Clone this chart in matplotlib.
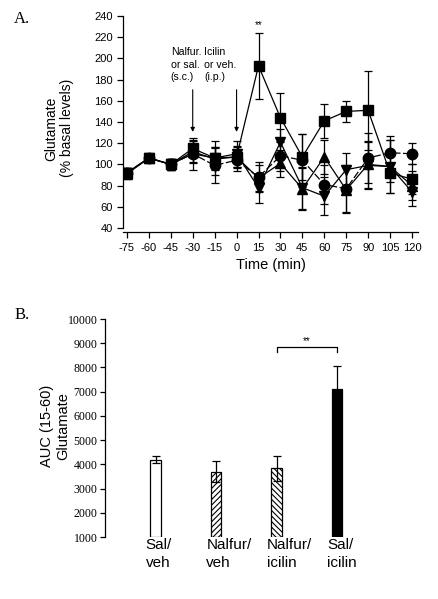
import matplotlib
matplotlib.use('Agg')
import matplotlib.pyplot as plt
import numpy as np

plt.rcParams['font.family'] = ['Liberation Sans', 'DejaVu Sans']
plt.rcParams['hatch.linewidth'] = 0.8
plt.rcParams['axes.unicode_minus'] = False

# panel A: time course (% basal glutamate)
time = [-75, -60, -45, -30, -15, 0, 15, 30, 45, 60, 75, 90, 105, 120]

sal_icilin = [92, 106, 100, 115, 106, 107, 193, 144, 107, 141, 150, 151, 92, 86]
sal_icilin_err = [5, 4, 5, 8, 10, 10, 31, 23, 22, 16, 10, 37, 9, 14]

sal_veh = [92, 106, 100, 110, 99, 104, 88, 108, 104, 81, 77, 106, 111, 110]
sal_veh_err = [5, 4, 5, 15, 17, 10, 14, 14, 25, 18, 22, 24, 16, 10]

nalfur_veh = [91, 106, 100, 112, 105, 107, 87, 101, 77, 107, 76, 100, 98, 80]
nalfur_veh_err = [5, 4, 5, 10, 10, 9, 12, 13, 20, 16, 22, 22, 25, 14]

nalfur_icilin = [92, 106, 100, 110, 106, 110, 78, 121, 78, 70, 95, 99, 98, 74]
nalfur_icilin_err = [5, 4, 5, 9, 16, 12, 14, 12, 20, 18, 16, 22, 25, 13]

# panel B: AUC 15-60 min
groups = ['Sal/\nveh', 'Nalfur/\nveh', 'Nalfur/\nicilin', 'Sal/\nicilin']
auc = [4200, 3700, 3830, 7100]
auc_err = [155, 420, 500, 980]

fig = plt.figure(figsize=(4.38, 5.99), dpi=100)

# ---------------- A ----------------
axA = fig.add_axes([0.2808, 0.6194, 0.6735, 0.3539])
ekw = dict(color='black', lw=0.9, capsize=3, elinewidth=0.9, capthick=0.9, ms=7.5)
axA.errorbar(time, nalfur_veh, yerr=nalfur_veh_err, marker='^', **ekw)
axA.errorbar(time, sal_veh, yerr=sal_veh_err, marker='o', ls=(0, (6, 2)), **ekw)
axA.errorbar(time, nalfur_icilin, yerr=nalfur_icilin_err, marker='v', **ekw)
axA.errorbar(time, sal_icilin, yerr=sal_icilin_err, marker='s', **ekw)

axA.set_xlim(-77.7, 124.1)
axA.set_ylim(40, 240)
axA.set_xticks(time)
axA.set_yticks(np.arange(40, 241, 20))
axA.tick_params(labelsize=8, direction='out', length=4, width=0.9)
axA.spines['top'].set_visible(False)
axA.spines['right'].set_visible(False)
axA.spines['bottom'].set_position(('outward', 3))
for s in ['left', 'bottom']:
    axA.spines[s].set_linewidth(0.9)
axA.set_xlabel('Time (min)', fontsize=10.5, labelpad=4)
axA.set_ylabel('Glutamate\n(% basal levels)', fontsize=10)
axA.yaxis.set_label_coords(-0.166, 0.47)

axA.annotate('', xy=(-30, 128), xytext=(-30, 173),
             arrowprops=dict(arrowstyle='-|>', color='black', lw=0.8, mutation_scale=6))
axA.annotate('', xy=(0, 128), xytext=(0, 173),
             arrowprops=dict(arrowstyle='-|>', color='black', lw=0.8, mutation_scale=6))
axA.text(-45, 211, 'Nalfur.\nor sal.\n(s.c.)', fontsize=7.6, va='top', ha='left', linespacing=1.35)
axA.text(-22, 211, 'Icilin\nor veh.\n(i.p.)', fontsize=7.6, va='top', ha='left', linespacing=1.35)
axA.text(15, 231, '**', fontsize=7, ha='center', va='center')

fig.text(0.032, 0.968, 'A.', family='Liberation Serif', fontsize=12, va='center')

# ---------------- B ----------------
axB = fig.add_axes([0.2397, 0.1035, 0.605, 0.3639])
pos = np.arange(len(groups))
fills = ['white', 'white', 'white', 'black']
hatches = [None, '//////', '\\\\\\\\\\\\', None]
for i in range(len(groups)):
    axB.bar(pos[i], auc[i] - 1000, bottom=1000, width=0.17, color=fills[i],
            edgecolor='black', linewidth=0.9, hatch=hatches[i], zorder=2)
axB.errorbar(pos, auc, yerr=auc_err, fmt='none', ecolor='black', elinewidth=0.9,
             capsize=3, capthick=0.9, zorder=3)

axB.set_xlim(-0.835, 3.545)
axB.set_ylim(1000, 10000)
axB.set_yticks(np.arange(1000, 10001, 1000))
axB.set_xticks([])
for lab in axB.get_yticklabels():
    lab.set_family('Liberation Serif')
axB.tick_params(axis='y', labelsize=8.5, direction='out', length=3.5, width=0.9, pad=2)
for s in ['top', 'right', 'bottom']:
    axB.spines[s].set_visible(False)
axB.spines['left'].set_linewidth(0.9)
axB.set_ylabel('AUC (15-60)\nGlutamate', fontsize=10.5)
axB.yaxis.set_label_coords(-0.13, 0.51)

for i, g in enumerate(groups):
    axB.text(pos[i] - 0.16, 960, g, fontsize=11, ha='left', va='top', linespacing=1.35)

# significance bracket
axB.plot([pos[2], pos[2], pos[3], pos[3]], [8650, 8840, 8840, 8650], color='black', lw=0.9)
axB.text((pos[2] + pos[3]) / 2, 9080, '**', fontsize=7, ha='center', va='center')

fig.text(0.032, 0.474, 'B.', family='Liberation Serif', fontsize=12, va='center')

fig.savefig('out.png', dpi=100)
